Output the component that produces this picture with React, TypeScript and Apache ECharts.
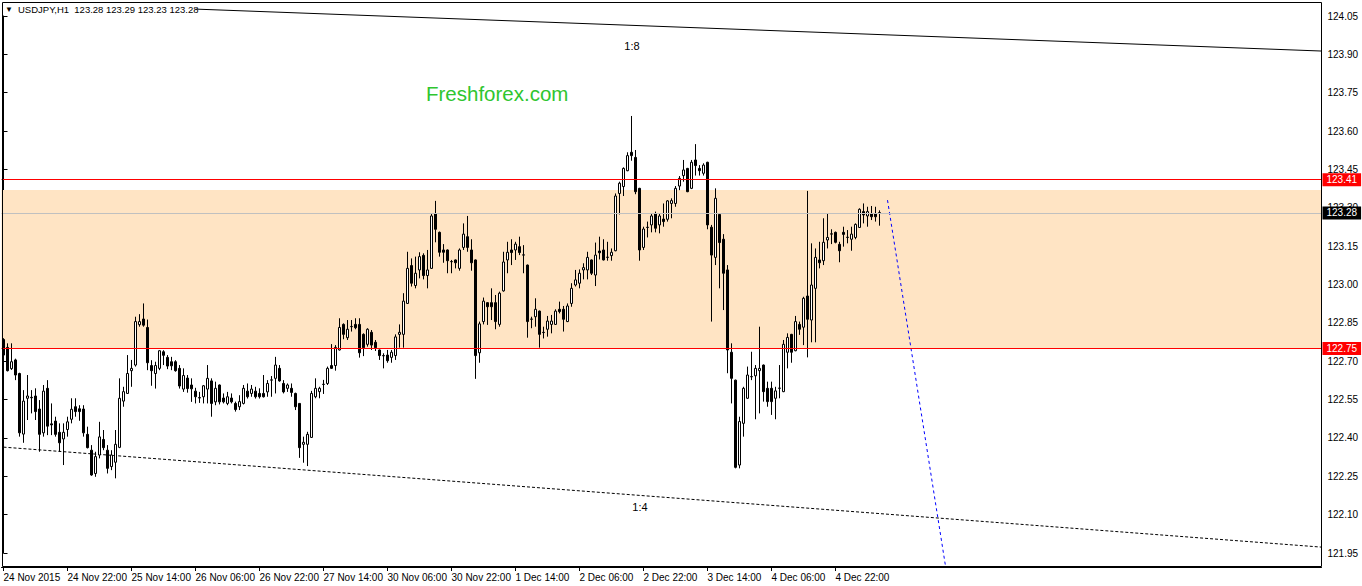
import React, { useEffect, useRef } from "react";
import * as echarts from "echarts";

// ---- time axis ----
const slotCount = 330;
const labelStep = 16;
const timeLabels = [
  "24 Nov 2015", "24 Nov 22:00", "25 Nov 14:00", "26 Nov 06:00", "26 Nov 22:00",
  "27 Nov 14:00", "30 Nov 06:00", "30 Nov 22:00", "1 Dec 14:00", "2 Dec 06:00",
  "2 Dec 22:00", "3 Dec 14:00", "4 Dec 06:00", "4 Dec 22:00",
];

// ---- USDJPY H1 bars [open, high, low, close] ----
const barsWeek1 = [
  [122.785, 122.790, 122.720, 122.724], [122.754, 122.770, 122.660, 122.663], [122.671, 122.770, 122.666, 122.698],
  [122.705, 122.710, 122.626, 122.646], [122.652, 122.655, 122.405, 122.420], [122.415, 122.587, 122.381, 122.544],
  [122.555, 122.646, 122.470, 122.564], [122.559, 122.587, 122.496, 122.557], [122.564, 122.594, 122.470, 122.503],
  [122.513, 122.548, 122.346, 122.414], [122.420, 122.607, 122.405, 122.583], [122.594, 122.626, 122.411, 122.446],
  [122.455, 122.535, 122.411, 122.451], [122.466, 122.483, 122.405, 122.414], [122.422, 122.457, 122.346, 122.381],
  [122.396, 122.457, 122.294, 122.422], [122.433, 122.483, 122.405, 122.463], [122.473, 122.555, 122.457, 122.512],
  [122.522, 122.555, 122.483, 122.503], [122.514, 122.528, 122.467, 122.503], [122.513, 122.528, 122.405, 122.420],
  [122.414, 122.444, 122.359, 122.362], [122.352, 122.372, 122.252, 122.255], [122.261, 122.346, 122.248, 122.327],
  [122.333, 122.463, 122.320, 122.404], [122.394, 122.431, 122.352, 122.362], [122.352, 122.372, 122.261, 122.281],
  [122.288, 122.352, 122.274, 122.333], [122.305, 122.431, 122.242, 122.375], [122.363, 122.633, 122.360, 122.555],
  [122.544, 122.600, 122.522, 122.581], [122.574, 122.724, 122.572, 122.652], [122.663, 122.705, 122.600, 122.672],
  [122.685, 122.874, 122.679, 122.855], [122.843, 122.884, 122.835, 122.855], [122.865, 122.926, 122.835, 122.841],
  [122.832, 122.863, 122.665, 122.694], [122.683, 122.704, 122.604, 122.663], [122.652, 122.698, 122.593, 122.683],
  [122.672, 122.743, 122.665, 122.741], [122.737, 122.743, 122.685, 122.723], [122.715, 122.724, 122.669, 122.681],
  [122.698, 122.717, 122.665, 122.682], [122.698, 122.704, 122.659, 122.663], [122.672, 122.685, 122.593, 122.603],
  [122.591, 122.672, 122.580, 122.644], [122.634, 122.646, 122.577, 122.593], [122.607, 122.633, 122.541, 122.592],
  [122.583, 122.596, 122.535, 122.561], [122.556, 122.580, 122.537, 122.558], [122.561, 122.607, 122.535, 122.604],
  [122.591, 122.685, 122.535, 122.633], [122.623, 122.633, 122.483, 122.535], [122.541, 122.620, 122.528, 122.594],
  [122.607, 122.609, 122.531, 122.541], [122.556, 122.574, 122.535, 122.541], [122.535, 122.580, 122.528, 122.561],
  [122.556, 122.574, 122.535, 122.541], [122.535, 122.542, 122.503, 122.511], [122.522, 122.567, 122.509, 122.542],
  [122.535, 122.607, 122.531, 122.594], [122.583, 122.613, 122.554, 122.561], [122.574, 122.607, 122.561, 122.591],
  [122.583, 122.600, 122.554, 122.561], [122.574, 122.594, 122.554, 122.561], [122.574, 122.646, 122.558, 122.561],
  [122.580, 122.626, 122.561, 122.613], [122.626, 122.642, 122.561, 122.627], [122.633, 122.717, 122.574, 122.685],
  [122.672, 122.685, 122.620, 122.623], [122.613, 122.626, 122.574, 122.580], [122.594, 122.613, 122.580, 122.607],
  [122.594, 122.613, 122.561, 122.578], [122.574, 122.577, 122.509, 122.522], [122.535, 122.535, 122.322, 122.362],
  [122.375, 122.405, 122.303, 122.383], [122.375, 122.424, 122.290, 122.414], [122.402, 122.584, 122.400, 122.574],
  [122.561, 122.633, 122.555, 122.594], [122.581, 122.600, 122.555, 122.594], [122.609, 122.627, 122.572, 122.610],
  [122.613, 122.679, 122.607, 122.672], [122.683, 122.767, 122.670, 122.672], [122.683, 122.763, 122.663, 122.754],
  [122.744, 122.868, 122.742, 122.832], [122.844, 122.848, 122.786, 122.805], [122.792, 122.861, 122.783, 122.825],
  [122.835, 122.861, 122.816, 122.836], [122.844, 122.868, 122.825, 122.831], [122.844, 122.868, 122.714, 122.733],
];
const barsWeek2 = [
  [122.805, 122.809, 122.720, 122.753], [122.766, 122.829, 122.757, 122.825], [122.813, 122.822, 122.744, 122.763],
  [122.774, 122.783, 122.740, 122.753], [122.744, 122.746, 122.705, 122.722], [122.722, 122.731, 122.672, 122.721],
  [122.724, 122.744, 122.694, 122.702], [122.715, 122.744, 122.694, 122.735], [122.722, 122.805, 122.705, 122.795],
  [122.805, 122.844, 122.753, 122.813], [122.805, 122.966, 122.753, 122.935], [122.926, 123.128, 122.924, 123.063],
  [123.074, 123.102, 122.992, 123.005], [122.996, 123.109, 122.985, 123.044], [123.057, 123.126, 123.024, 123.109],
  [123.114, 123.122, 123.020, 123.035], [123.035, 123.135, 122.985, 123.057], [123.063, 123.276, 123.061, 123.268],
  [123.276, 123.327, 123.165, 123.216], [123.204, 123.207, 123.109, 123.126], [123.135, 123.158, 123.085, 123.126],
  [123.135, 123.137, 123.044, 123.093], [123.089, 123.096, 123.044, 123.090], [123.096, 123.098, 123.063, 123.085],
  [123.063, 123.141, 123.054, 123.135], [123.145, 123.239, 123.135, 123.197], [123.187, 123.268, 123.128, 123.145],
  [123.135, 123.177, 123.054, 123.085], [123.096, 123.098, 122.631, 122.722], [122.733, 122.855, 122.694, 122.846],
  [122.855, 122.949, 122.844, 122.935], [122.929, 122.931, 122.842, 122.913], [122.929, 122.985, 122.861, 122.913],
  [122.929, 122.959, 122.825, 122.855], [122.844, 122.972, 122.835, 122.966], [122.975, 123.128, 122.972, 123.088],
  [123.096, 123.167, 123.044, 123.126], [123.135, 123.177, 123.076, 123.125], [123.135, 123.167, 123.096, 123.158],
  [123.148, 123.187, 123.115, 123.125], [123.115, 123.154, 123.044, 123.116], [123.076, 123.078, 122.792, 122.855],
  [122.864, 122.874, 122.829, 122.865], [122.874, 122.946, 122.835, 122.903], [122.896, 122.898, 122.753, 122.805],
  [122.813, 122.835, 122.789, 122.812], [122.825, 122.877, 122.796, 122.857], [122.844, 122.881, 122.809, 122.857],
  [122.844, 122.903, 122.842, 122.896], [122.903, 122.933, 122.887, 122.894], [122.903, 122.916, 122.816, 122.864],
  [122.855, 122.926, 122.853, 122.916], [122.926, 123.005, 122.913, 122.985], [122.998, 123.057, 122.992, 123.018],
  [123.005, 123.059, 122.985, 123.044], [123.057, 123.083, 123.020, 123.066], [123.057, 123.128, 123.020, 123.106],
  [123.096, 123.098, 123.037, 123.044], [123.037, 123.164, 122.994, 123.115], [123.131, 123.187, 123.098, 123.124],
  [123.135, 123.177, 123.094, 123.096], [123.106, 123.167, 123.093, 123.107], [123.113, 123.141, 123.093, 123.126],
  [123.132, 123.356, 123.130, 123.346], [123.356, 123.402, 123.274, 123.396], [123.383, 123.458, 123.346, 123.454],
  [123.445, 123.517, 123.443, 123.504], [123.517, 123.659, 123.484, 123.504], [123.497, 123.526, 123.353, 123.363],
  [123.376, 123.378, 123.093, 123.135], [123.145, 123.226, 123.135, 123.217], [123.223, 123.246, 123.184, 123.224],
  [123.233, 123.278, 123.204, 123.268], [123.276, 123.285, 123.204, 123.220], [123.233, 123.278, 123.200, 123.268],
  [123.256, 123.317, 123.226, 123.246], [123.255, 123.330, 123.246, 123.327], [123.317, 123.337, 123.259, 123.328],
  [123.317, 123.385, 123.304, 123.376], [123.385, 123.424, 123.369, 123.415], [123.426, 123.487, 123.402, 123.448],
  [123.454, 123.456, 123.361, 123.363], [123.376, 123.487, 123.373, 123.478], [123.487, 123.549, 123.426, 123.465],
  [123.454, 123.467, 123.426, 123.445], [123.435, 123.474, 123.426, 123.467], [123.478, 123.480, 123.216, 123.233],
  [123.224, 123.233, 122.855, 123.115], [123.106, 123.376, 123.076, 123.337], [123.274, 123.276, 122.985, 123.164],
  [123.177, 123.197, 122.900, 123.044], [123.057, 123.076, 122.653, 122.744], [122.735, 122.770, 122.535, 122.633],
  [122.626, 122.628, 122.281, 122.285], [122.294, 122.483, 122.281, 122.464], [122.457, 122.600, 122.405, 122.594],
  [122.555, 122.679, 122.553, 122.646], [122.639, 122.737, 122.626, 122.640], [122.643, 122.685, 122.473, 122.672],
  [122.663, 122.835, 122.496, 122.672], [122.685, 122.687, 122.542, 122.581], [122.594, 122.620, 122.522, 122.542],
  [122.594, 122.620, 122.490, 122.542], [122.555, 122.600, 122.473, 122.584], [122.594, 122.685, 122.555, 122.595],
  [122.581, 122.783, 122.579, 122.766], [122.735, 122.809, 122.672, 122.793], [122.805, 122.807, 122.694, 122.735],
  [122.741, 122.877, 122.739, 122.855], [122.844, 122.855, 122.803, 122.825], [122.833, 122.952, 122.763, 122.946],
  [122.955, 123.366, 122.715, 122.864], [122.861, 123.161, 122.774, 122.998], [122.985, 123.141, 122.774, 123.106],
  [123.096, 123.167, 123.063, 123.085], [123.093, 123.259, 123.076, 123.165], [123.174, 123.278, 123.141, 123.184],
  [123.198, 123.216, 123.158, 123.197], [123.204, 123.207, 123.161, 123.165], [123.157, 123.167, 123.087, 123.132],
  [123.204, 123.226, 123.148, 123.196], [123.184, 123.213, 123.161, 123.185], [123.177, 123.226, 123.132, 123.197],
  [123.184, 123.239, 123.177, 123.235], [123.223, 123.298, 123.221, 123.294], [123.285, 123.317, 123.239, 123.272],
  [123.268, 123.304, 123.226, 123.285], [123.276, 123.307, 123.252, 123.265], [123.276, 123.304, 123.246, 123.265],
  [123.280, 123.290, 123.230, 123.281],
];

// ---- price axis ----
const priceMin = 121.95;
const priceMax = 124.05;
const priceStep = 0.15;

// ---- drawn objects (bar index, price) ----
const upperChannel = [[48, 124.077], [329.5, 123.913]];
const lowerChannel = [[0, 122.364], [329.5, 121.973]];
const projection = [[221, 123.33], [235.5, 121.899]];
const zoneLow = 122.75;
const zoneHigh = 123.37;
const resistanceLevel = 123.41;
const supportLevel = 122.75;
const bidPrice = 123.28;
const headerQuote = "USDJPY,H1  123.28 123.29 123.23 123.28";

const FONT = "Liberation Sans, Arial, sans-serif";

export default function App() {
  const ref = useRef<HTMLDivElement>(null);
  useEffect(() => {
    document.body.style.margin = "0";
    const chart = echarts.init(ref.current!, null, { renderer: "svg" });
    const bars = [...barsWeek1, ...barsWeek2];
    const candleData = bars.map(([o, h, l, c]) => [o, c, l, h]);
    const slots = Array.from({ length: slotCount }, (_, i) => String(i));
    const showLabel = (i: number) => i % labelStep === 0 && i / labelStep < timeLabels.length;

    const tag = (bg: string) => ({
      show: true,
      position: "end",
      distance: 1,
      formatter: (p: any) => Number(p.value).toFixed(2),
      color: "#fff",
      backgroundColor: bg,
      padding: [2, 4, 1, 4],
      fontSize: 10,
      fontFamily: FONT,
    });

    chart.setOption({
      animation: false,
      backgroundColor: "#fff",
      grid: { left: 1.5, right: 40.5, top: 16, bottom: 33 },
      xAxis: [
        {
          type: "category",
          data: slots,
          boundaryGap: true,
          offset: 14,
          axisLine: { show: true, lineStyle: { color: "#000", width: 1 } },
          axisTick: { show: true, interval: showLabel, alignWithLabel: true, length: 4, lineStyle: { color: "#000" } },
          axisLabel: {
            interval: showLabel,
            formatter: (_v: string, idx: number) => timeLabels[idx / labelStep] ?? "",
            align: "left",
            margin: 5,
            fontSize: 10,
            color: "#000",
            fontFamily: FONT,
          },
          splitLine: { show: false },
        },
        { type: "value", min: -0.5, max: slotCount - 0.5, show: false },
      ],
      yAxis: {
        type: "value",
        position: "right",
        min: priceMin,
        max: priceMax,
        interval: priceStep,
        axisLine: { show: true, lineStyle: { color: "#000" } },
        axisTick: { show: true, length: 4, lineStyle: { color: "#000" } },
        axisLabel: {
          formatter: (v: number) => v.toFixed(2),
          margin: 6,
          fontSize: 10,
          color: "#000",
          fontFamily: FONT,
        },
        splitLine: { show: false },
      },
      series: [
        {
          type: "line",
          name: "lower",
          xAxisIndex: 1,
          data: lowerChannel,
          clip: false,
          symbol: "none",
          z: 1,
          lineStyle: { color: "#000", width: 1, type: [3, 2] },
          markArea: {
            silent: true,
            itemStyle: { color: "#FFE4C4" },
            label: { show: false },
            data: [[{ yAxis: zoneLow }, { yAxis: zoneHigh }]],
          },
          markLine: {
            silent: true,
            symbol: ["none", "none"],
            precision: 2,
            data: [
              { yAxis: bidPrice, lineStyle: { color: "#C0C0C0", width: 1, type: "solid" }, label: tag("#000") },
              { yAxis: resistanceLevel, lineStyle: { color: "#FF0000", width: 1, type: "solid" }, label: tag("#FF0000") },
              { yAxis: supportLevel, lineStyle: { color: "#FF0000", width: 1, type: "solid" }, label: tag("#FF0000") },
            ],
          },
        },
        {
          type: "candlestick",
          xAxisIndex: 0,
          data: candleData,
          barWidth: 3,
          z: 2,
          itemStyle: { color: "#fff", color0: "#000", borderColor: "#000", borderColor0: "#000", borderWidth: 1 },
        },
        {
          type: "line",
          name: "upper",
          xAxisIndex: 1,
          data: upperChannel,
          clip: false,
          symbol: "none",
          z: 3,
          lineStyle: { color: "#000", width: 1 },
        },
        {
          type: "line",
          name: "projection",
          xAxisIndex: 1,
          data: projection,
          clip: false,
          symbol: "none",
          z: 3,
          lineStyle: { color: "#0000FF", width: 1, type: [3, 3] },
        },
      ],
      graphic: [
        {
          type: "rect",
          silent: true,
          z: 10,
          shape: { x: 2.5, y: 2.5, width: 1319, height: 564 },
          style: { fill: "none", stroke: "#000", lineWidth: 1 },
        },
        { type: "text", x: 5, y: 5, z: 11, style: { text: "▼", font: `8px ${FONT}`, fill: "#000" } },
        { type: "text", x: 18, y: 4.5, z: 11, style: { text: headerQuote, font: `9.5px ${FONT}`, fill: "#000" } },
        { type: "text", x: 632, y: 46, z: 11, style: { text: "1:8", font: `11px ${FONT}`, fill: "#000", align: "center", verticalAlign: "middle" } },
        { type: "text", x: 640, y: 507, z: 11, style: { text: "1:4", font: `11px ${FONT}`, fill: "#000", align: "center", verticalAlign: "middle" } },
        { type: "text", x: 426, y: 93, z: 11, style: { text: "Freshforex.com", font: `20.5px ${FONT}`, fill: "#2FC52F", verticalAlign: "middle" } },
      ],
    });
    return () => chart.dispose();
  }, []);
  return <div ref={ref} style={{ position: "fixed", left: 0, top: 0, width: 1362, height: 586 }} />;
}
